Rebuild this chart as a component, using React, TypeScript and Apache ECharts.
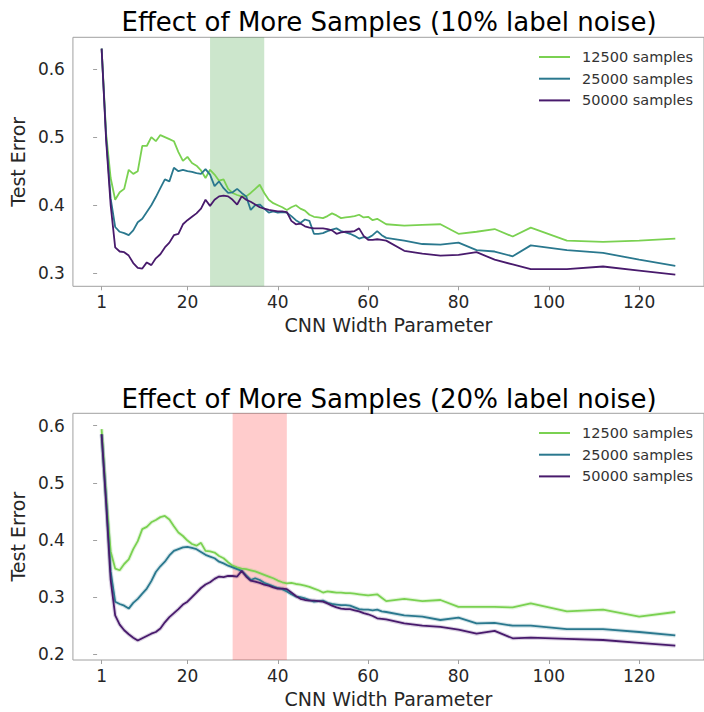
import React, { useEffect, useRef } from "react";
import * as echarts from "echarts";

const cnnWidths = [
  1, 2, 3, 4, 5, 6, 7, 8, 9, 10, 11, 12, 13, 14, 15, 16, 17, 18, 19, 20,
  21, 22, 23, 24, 25, 26, 27, 28, 29, 30, 31, 32, 33, 34, 35, 36, 37, 38, 39, 40,
  41, 42, 43, 44, 45, 46, 47, 48, 49, 50, 51, 52, 53, 54, 55, 56, 57, 58, 59, 60,
  61, 62, 63, 64, 68, 72, 76, 80, 84, 88, 92, 96, 104, 112, 120, 128,
];

const xTicks = [1, 20, 40, 60, 80, 100, 120];
const yTicks = [0.2, 0.3, 0.4, 0.5, 0.6];

const seriesNames = ["12500 samples", "25000 samples", "50000 samples"];
const seriesColors = ["#7AD151", "#2A788E", "#481A6C"];

// 10% label noise
const top12500 = [
  0.630, 0.505, 0.440, 0.408, 0.419, 0.424, 0.452, 0.446, 0.450, 0.487,
  0.487, 0.500, 0.494, 0.503, 0.500, 0.497, 0.494, 0.478, 0.465, 0.471,
  0.462, 0.458, 0.451, 0.440, 0.452, 0.445, 0.436, 0.438, 0.424, 0.418,
  0.415, 0.413, 0.413, 0.418, 0.424, 0.430, 0.418, 0.408, 0.403, 0.400,
  0.397, 0.393, 0.397, 0.400, 0.395, 0.392, 0.386, 0.383, 0.382, 0.381,
  0.384, 0.388, 0.385, 0.381, 0.382, 0.383, 0.384, 0.386, 0.382, 0.383,
  0.378, 0.380, 0.376, 0.372,
  0.370, 0.371, 0.372, 0.358, 0.361, 0.365, 0.354, 0.367, 0.348, 0.346, 0.348, 0.351,
];
const top25000 = [
  0.630, 0.500, 0.410, 0.368, 0.361, 0.359, 0.356, 0.363, 0.375, 0.380,
  0.390, 0.400, 0.412, 0.425, 0.438, 0.435, 0.455, 0.450, 0.452, 0.450,
  0.449, 0.447, 0.446, 0.453, 0.445, 0.428, 0.435, 0.425, 0.418, 0.419,
  0.424, 0.418, 0.413, 0.393, 0.400, 0.401, 0.395, 0.389, 0.391, 0.389,
  0.390, 0.389, 0.384, 0.378, 0.374, 0.379, 0.377, 0.358, 0.358, 0.359,
  0.362, 0.364, 0.366, 0.362, 0.360, 0.358, 0.355, 0.351, 0.353, 0.352,
  0.356, 0.362, 0.356, 0.352,
  0.348, 0.343, 0.342, 0.345, 0.334, 0.332, 0.325, 0.341, 0.334, 0.330, 0.320, 0.311,
];
const top50000 = [
  0.630, 0.495, 0.400, 0.338, 0.332, 0.331, 0.326, 0.315, 0.308, 0.307,
  0.316, 0.312, 0.322, 0.328, 0.338, 0.345, 0.356, 0.358, 0.372, 0.378,
  0.383, 0.388, 0.395, 0.408, 0.399, 0.408, 0.413, 0.414, 0.413, 0.408,
  0.401, 0.413, 0.408, 0.405, 0.401, 0.397, 0.395, 0.393, 0.392, 0.391,
  0.391, 0.390, 0.377, 0.372, 0.373, 0.369, 0.367, 0.366, 0.366, 0.366,
  0.365, 0.363, 0.358, 0.360, 0.361, 0.361, 0.362, 0.366, 0.355, 0.349,
  0.349, 0.350, 0.349, 0.348,
  0.333, 0.329, 0.326, 0.327, 0.331, 0.320, 0.313, 0.306, 0.306, 0.310, 0.304, 0.298,
];

// 20% label noise
const bot12500 = [
  0.594, 0.475, 0.380, 0.350, 0.347, 0.358, 0.366, 0.384, 0.398, 0.419,
  0.423, 0.431, 0.435, 0.440, 0.442, 0.436, 0.424, 0.413, 0.407, 0.399,
  0.393, 0.390, 0.395, 0.381, 0.380, 0.378, 0.372, 0.368, 0.361, 0.355,
  0.352, 0.350, 0.349, 0.347, 0.345, 0.342, 0.339, 0.336, 0.333, 0.329,
  0.326, 0.324, 0.325, 0.323, 0.322, 0.320, 0.318, 0.315, 0.312, 0.308,
  0.310, 0.309, 0.308, 0.308, 0.307, 0.307, 0.306, 0.305, 0.304, 0.303,
  0.304, 0.305, 0.299, 0.293,
  0.297, 0.293, 0.295, 0.283, 0.283, 0.283, 0.282, 0.289, 0.275, 0.278, 0.266, 0.274,
];
const bot25000 = [
  0.585, 0.470, 0.345, 0.292, 0.288, 0.285, 0.280, 0.290, 0.297, 0.306,
  0.315, 0.328, 0.344, 0.354, 0.362, 0.373, 0.381, 0.384, 0.387, 0.388,
  0.386, 0.384, 0.379, 0.374, 0.371, 0.368, 0.362, 0.359, 0.355, 0.352,
  0.349, 0.346, 0.338, 0.330, 0.333, 0.330, 0.325, 0.322, 0.319, 0.316,
  0.314, 0.310, 0.305, 0.301, 0.300, 0.298, 0.295, 0.292, 0.293, 0.294,
  0.290, 0.288, 0.287, 0.286, 0.286, 0.285, 0.282, 0.279, 0.278, 0.278,
  0.277, 0.278, 0.275, 0.274,
  0.268, 0.266, 0.260, 0.264, 0.254, 0.255, 0.250, 0.250, 0.244, 0.244, 0.239, 0.233,
];
const bot50000 = [
  0.585, 0.465, 0.330, 0.268, 0.252, 0.242, 0.235, 0.229, 0.224, 0.228,
  0.232, 0.236, 0.239, 0.245, 0.256, 0.265, 0.272, 0.279, 0.287, 0.292,
  0.300, 0.308, 0.316, 0.322, 0.326, 0.332, 0.336, 0.335, 0.337, 0.337,
  0.336, 0.346, 0.336, 0.329, 0.327, 0.325, 0.322, 0.320, 0.317, 0.315,
  0.315, 0.314, 0.308, 0.302, 0.297, 0.295, 0.294, 0.294, 0.293, 0.292,
  0.289, 0.285, 0.282, 0.280, 0.279, 0.279, 0.277, 0.275, 0.272, 0.270,
  0.267, 0.263, 0.262, 0.261,
  0.254, 0.250, 0.248, 0.243, 0.236, 0.241, 0.228, 0.229, 0.227, 0.225, 0.220, 0.215,
];

const topBand = [25, 37];
const botBand = [30, 42];

const FONT = '"DejaVu Sans", "Liberation Sans", sans-serif';
const TEXT = "#262626";
const FRAME = "#a0a0a0";

function pairs(vals: number[]) {
  return cnnWidths.map((w, i) => [w, vals[i]]);
}

function makeXAxis(gridIndex: number) {
  return {
    type: "value",
    gridIndex,
    min: -5.35,
    max: 134.35,
    splitLine: { show: false },
    axisLine: { show: false },
    axisTick: {
      show: true,
      length: 4,
      lineStyle: { color: FRAME, width: 1 },
      customValues: xTicks,
    },
    axisLabel: {
      customValues: xTicks,
      fontSize: 17,
      color: TEXT,
      fontFamily: FONT,
      margin: 7,
    },
    name: "CNN Width Parameter",
    nameLocation: "middle",
    nameGap: 29,
    nameTextStyle: { fontSize: 19, color: TEXT, fontFamily: FONT },
  };
}

function makeYAxis(gridIndex: number, min: number, max: number, ticks: number[]) {
  return {
    type: "value",
    gridIndex,
    min,
    max,
    splitLine: { show: false },
    axisLine: { show: false },
    axisTick: {
      show: true,
      length: 4,
      lineStyle: { color: FRAME, width: 1 },
      customValues: ticks,
    },
    axisLabel: {
      customValues: ticks,
      fontSize: 17,
      color: TEXT,
      fontFamily: FONT,
      margin: 8,
      formatter: (v: number) => v.toFixed(1),
    },
    name: "Test Error",
    nameLocation: "middle",
    nameGap: 40,
    nameTextStyle: { fontSize: 19, color: TEXT, fontFamily: FONT },
  };
}

function makeLegend(top: number) {
  return {
    data: seriesNames,
    orient: "vertical",
    top,
    right: 11,
    padding: 0,
    icon: "rect",
    itemWidth: 31,
    itemHeight: 2,
    itemGap: 5.7,
    textStyle: {
      fontSize: 14.5,
      color: "#333333",
      fontFamily: FONT,
      lineHeight: 16,
      padding: [0, 0, 0, 7],
    },
  };
}

export default function App() {
  const ref = useRef<HTMLDivElement>(null);

  useEffect(() => {
    if (!ref.current) return;
    const chart = echarts.init(ref.current, undefined, { renderer: "svg" });

    const topData = [top12500, top25000, top50000];
    const botData = [bot12500, bot25000, bot50000];

    const series: any[] = [];
    series.push({
      type: "line",
      xAxisIndex: 0,
      yAxisIndex: 0,
      data: [],
      z: 1,
      silent: true,
      markArea: {
        silent: true,
        itemStyle: { color: "rgba(0,128,0,0.2)" },
        data: [[{ xAxis: topBand[0] }, { xAxis: topBand[1] }]],
      },
    });
    series.push({
      type: "line",
      xAxisIndex: 1,
      yAxisIndex: 1,
      data: [],
      z: 1,
      silent: true,
      markArea: {
        silent: true,
        itemStyle: { color: "rgba(255,0,0,0.2)" },
        data: [[{ xAxis: botBand[0] }, { xAxis: botBand[1] }]],
      },
    });

    seriesNames.forEach((name, i) => {
      series.push({
        type: "line",
        name,
        xAxisIndex: 0,
        yAxisIndex: 0,
        data: pairs(topData[i]),
        showSymbol: false,
        symbol: "none",
        lineStyle: { width: 1.8, color: seriesColors[i] },
        itemStyle: { color: seriesColors[i] },
        z: 3 + i,
      });
    });
    seriesNames.forEach((name, i) => {
      series.push({
        type: "line",
        name: name + " band",
        xAxisIndex: 1,
        yAxisIndex: 1,
        data: pairs(botData[i]),
        showSymbol: false,
        symbol: "none",
        lineStyle: { width: 4, color: seriesColors[i], opacity: 0.2 },
        itemStyle: { color: seriesColors[i] },
        z: 2,
        silent: true,
      });
      series.push({
        type: "line",
        name,
        xAxisIndex: 1,
        yAxisIndex: 1,
        data: pairs(botData[i]),
        showSymbol: false,
        symbol: "none",
        lineStyle: { width: 1.8, color: seriesColors[i] },
        itemStyle: { color: seriesColors[i] },
        z: 3 + i,
      });
    });

    const option: any = {
      animation: false,
      backgroundColor: "#ffffff",
      textStyle: { fontFamily: FONT },
      grid: [
        {
          left: 72,
          top: 37.3,
          width: 634,
          height: 249,
          show: true,
          borderColor: FRAME,
          borderWidth: 1,
          backgroundColor: "transparent",
        },
        {
          left: 72,
          top: 413.3,
          width: 634,
          height: 246.7,
          show: true,
          borderColor: FRAME,
          borderWidth: 1,
          backgroundColor: "transparent",
        },
      ],
      xAxis: [makeXAxis(0), makeXAxis(1)],
      yAxis: [
        makeYAxis(0, 0.2809, 0.6466, yTicks.filter((t) => t >= 0.3)),
        makeYAxis(1, 0.19, 0.6217, yTicks),
      ],
      legend: [makeLegend(49), makeLegend(425)],
      graphic: [
        {
          type: "text",
          x: 389,
          y: 22,
          style: {
            text: "Effect of More Samples (10% label noise)",
            font: '26px "DejaVu Sans", sans-serif',
            fill: "#000000",
            textAlign: "center",
            textVerticalAlign: "middle",
          },
        },
        {
          type: "text",
          x: 389,
          y: 399,
          style: {
            text: "Effect of More Samples (20% label noise)",
            font: '26px "DejaVu Sans", sans-serif',
            fill: "#000000",
            textAlign: "center",
            textVerticalAlign: "middle",
          },
        },
      ],
      series,
    };

    chart.setOption(option);
    return () => {
      chart.dispose();
    };
  }, []);

  return (
    <div
      ref={ref}
      style={{ position: "absolute", left: 0, top: 0, width: 704, height: 712 }}
    />
  );
}
